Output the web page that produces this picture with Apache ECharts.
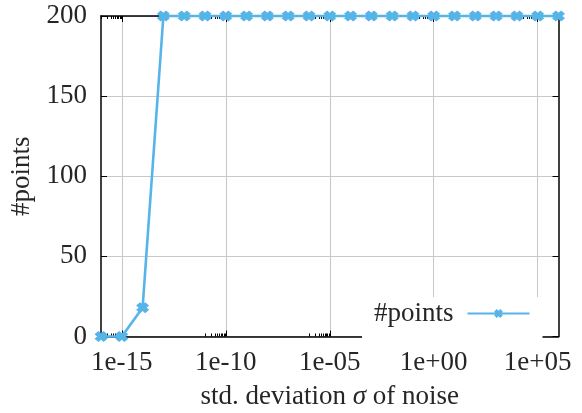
<!DOCTYPE html>
<html>
<head>
<meta charset="utf-8">
<script src="https://cdn.jsdelivr.net/npm/echarts@6/dist/echarts.min.js"></script>
<style>html,body{margin:0;padding:0;background:#fff}#c{width:582px;height:413px}</style>
</head>
<body>
<div id="c"></div>
<script>
// Data
const sigma = [1e-16, 1e-15, 1e-14, 1e-13, 1e-12, 1e-11, 1e-10, 1e-9, 1e-8, 1e-7, 1e-6, 1e-5,
               1e-4, 1e-3, 1e-2, 1e-1, 1e0, 1e1, 1e2, 1e3, 1e4, 1e5, 1e6];
const nPoints = [0, 0, 18, 200, 200, 200, 200, 200, 200, 200, 200, 200,
                 200, 200, 200, 200, 200, 200, 200, 200, 200, 200, 200];
const xTickValues = [1e-15, 1e-10, 1e-5, 1e0, 1e5];
const xTickLabels = ['1e-15', '1e-10', '1e-05', '1e+00', '1e+05'];
const yTickValues = [0, 50, 100, 150, 200];
const minorDecades = [-16, -11, -6, -1, 4];
const minorMult = [1, 2, 3, 4, 5, 6, 7, 8, 9];

const minorTicks = [];
minorDecades.forEach(d => minorMult.forEach(m => minorTicks.push(m * Math.pow(10, d))));

const FONT = 'Liberation Serif';
const FS = 27;
const TXT = '#262626';
const COL = '#56B4E9';
const XSYM = 'path://M0,3 L3,0 L5,2 L7,0 L10,3 L8,5 L10,7 L7,10 L5,8 L3,10 L0,7 L2,5 Z';

const chart = echarts.init(document.getElementById('c'));
const baseX = {
  type: 'log', logBase: 10, min: 1e-16, max: 1e6, gridIndex: 0
};
chart.setOption({
  animation: false,
  backgroundColor: '#fff',
  textStyle: { fontFamily: FONT },
  grid: { left: 101, right: 23.5, top: 16, bottom: 76.5, show: false, containLabel: false, outerBoundsMode: 'none' },
  legend: {
    data: ['#points'],
    left: 362, top: 297,
    align: 'right',
    itemWidth: 62, itemHeight: 11,
    backgroundColor: '#fff',
    padding: [3, 12, 12, 12],
    textStyle: { fontFamily: FONT, fontSize: FS, color: TXT, padding: [0, 9, 0, 0] }
  },
  xAxis: [
    Object.assign({}, baseX, {
      position: 'bottom',
      name: 'std. deviation {i|σ} of noise',
      nameLocation: 'middle', nameGap: 47,
      nameTextStyle: { fontFamily: FONT, fontSize: FS, color: TXT,
        rich: { i: { fontFamily: FONT, fontSize: FS, fontStyle: 'italic', color: TXT } } },
      axisLine: { show: true, lineStyle: { color: '#000', width: 1.5 } },
      axisTick: { show: true, inside: true, length: 6, customValues: xTickValues, lineStyle: { color: '#000' } },
      axisLabel: { customValues: xTickValues, margin: 13, fontFamily: FONT, fontSize: FS, color: TXT,
        formatter: v => { const i = xTickValues.findIndex(t => Math.abs(Math.log10(t) - Math.log10(v)) < 1e-6); return i >= 0 ? xTickLabels[i] : ''; } },
      splitLine: { show: true, lineStyle: { color: '#c8c8c8', width: 1 } },
      minorTick: { show: false }
    }),
    Object.assign({}, baseX, {
      position: 'bottom',
      axisLine: { show: false },
      axisTick: { show: true, inside: true, length: 3, customValues: minorTicks, lineStyle: { color: '#000' } },
      axisLabel: { show: false },
      splitLine: { show: false }
    }),
    Object.assign({}, baseX, {
      position: 'top',
      axisLine: { show: true, lineStyle: { color: '#000', width: 1.5 } },
      axisTick: { show: true, inside: true, length: 6, customValues: xTickValues, lineStyle: { color: '#000' } },
      axisLabel: { show: false },
      splitLine: { show: false }
    }),
    Object.assign({}, baseX, {
      position: 'top',
      axisLine: { show: false },
      axisTick: { show: true, inside: true, length: 3, customValues: minorTicks, lineStyle: { color: '#000' } },
      axisLabel: { show: false },
      splitLine: { show: false }
    })
  ],
  yAxis: [
    {
      type: 'value', min: 0, max: 200, interval: 50, position: 'left',
      name: '#points', nameLocation: 'middle', nameGap: 64, nameRotate: 90,
      nameTextStyle: { fontFamily: FONT, fontSize: FS, color: TXT },
      axisLine: { show: true, lineStyle: { color: '#000', width: 1.5 } },
      axisTick: { show: true, inside: true, length: 6, lineStyle: { color: '#000' } },
      axisLabel: { margin: 14, fontFamily: FONT, fontSize: FS, color: TXT,
        formatter: v => yTickValues.indexOf(v) >= 0 ? String(v) : '' },
      splitLine: { show: true, lineStyle: { color: '#c8c8c8', width: 1 } }
    },
    {
      type: 'value', min: 0, max: 200, interval: 50, position: 'right',
      axisLine: { show: true, lineStyle: { color: '#000', width: 1.5 } },
      axisTick: { show: true, inside: true, length: 6, lineStyle: { color: '#000' } },
      axisLabel: { show: false },
      splitLine: { show: false }
    }
  ],
  series: [{
    name: '#points',
    type: 'line',
    xAxisIndex: 0, yAxisIndex: 0,
    data: sigma.map((s, i) => [s, nPoints[i]]),
    clip: false,
    z: 10,
    lineStyle: { color: COL, width: 2.6 },
    itemStyle: { color: COL },
    symbol: XSYM,
    symbolSize: [13, 11],
    showAllSymbol: true
  }]
});
</script>
</body>
</html>
